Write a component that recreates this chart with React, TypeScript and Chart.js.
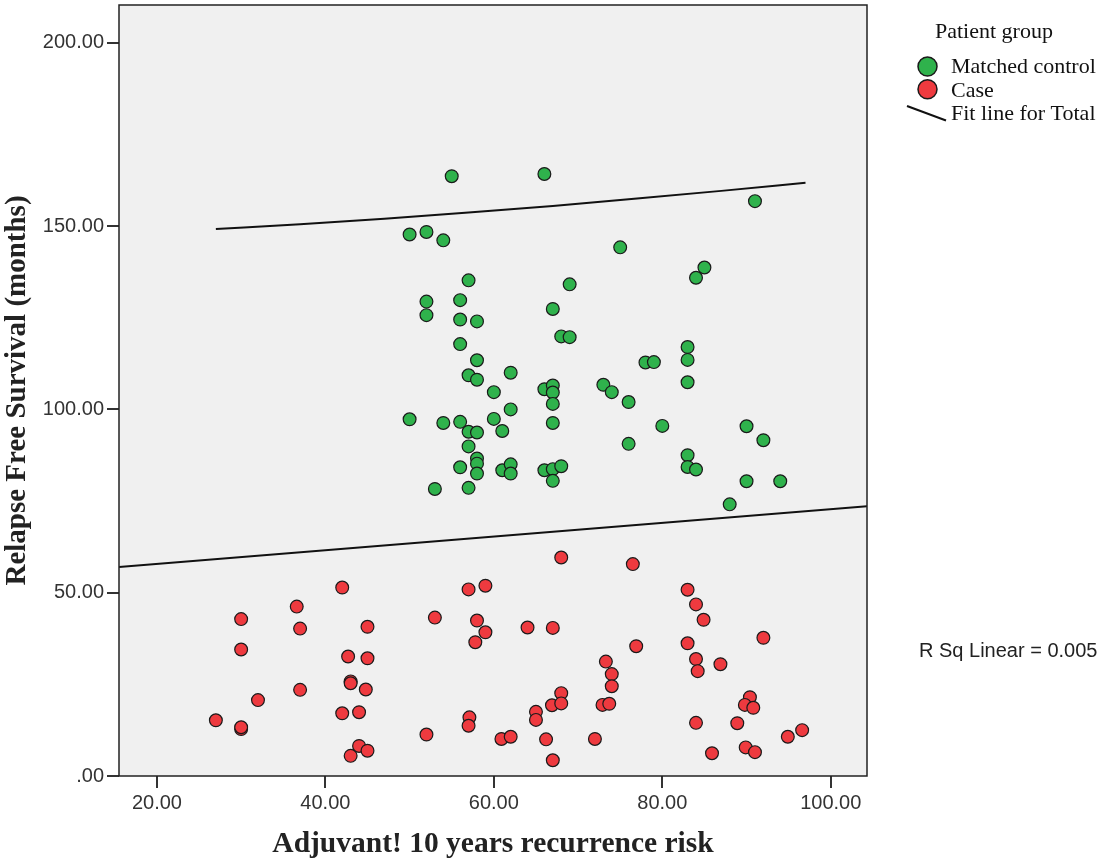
import React, { useEffect, useRef } from 'react';
import { Chart, registerables } from 'chart.js';

Chart.register(...registerables);

// Matched control (green)
const controlX = [55, 66, 50, 52, 54, 57, 69, 52, 56, 52, 56, 58, 67, 56, 68, 69, 58, 57, 58, 62, 60, 66, 67, 67, 67, 50, 54, 56, 60, 62, 67, 57, 58, 61, 57, 58, 58, 58, 56, 61, 62, 62, 66, 67, 68, 67, 53, 57,
  91, 75, 85, 84, 83, 83, 78, 79, 83, 73, 74, 76, 80, 90, 92, 76, 83, 83, 84, 90, 94, 88];
const controlY = [163.6, 164.2, 147.7, 148.4, 146.1, 135.2, 134.1, 129.4, 129.8, 125.7, 124.5, 124.0, 127.4, 117.8, 119.9, 119.7, 113.4, 109.3, 108.1, 110.0, 104.7, 105.5, 106.5, 104.6, 101.5, 97.3, 96.3, 96.6, 97.4, 100.0, 96.3, 93.9, 93.7, 94.1, 89.9, 86.6, 85.2, 82.5, 84.2, 83.4, 85.0, 82.5, 83.4, 83.7, 84.5, 80.5, 78.3, 78.6,
  156.8, 144.2, 138.7, 135.9, 117.0, 113.5, 112.8, 112.9, 107.4, 106.7, 104.7, 102.0, 95.5, 95.4, 91.6, 90.6, 87.5, 84.3, 83.6, 80.4, 80.4, 74.1];

// Case (red)
const caseX = [42, 36.6, 30, 37, 30, 42.7, 43, 37, 32, 42, 27, 30, 30, 43,
  68, 57, 59, 53, 45, 58, 59, 57.8, 64, 67, 45, 43, 44.8, 44, 44, 45, 52, 57.1, 57, 60.9, 62, 65, 65, 66.2, 67, 66.9, 68, 68,
  76.5, 83, 84, 84.9, 92, 76.9, 83, 73.3, 84, 86.9, 74, 84.2, 74, 72.9, 73.7, 72, 84, 88.9, 90.4, 89.8, 90.8, 85.9, 89.9, 91, 94.9, 96.6];
const caseY = [51.4, 46.2, 42.8, 40.2, 34.5, 32.6, 25.8, 23.5, 20.7, 17.1, 15.2, 12.8, 13.3, 5.5,
  59.6, 50.9, 51.9, 43.2, 40.7, 42.4, 39.2, 36.5, 40.5, 40.4, 32.1, 25.3, 23.6, 17.4, 8.2, 6.9, 11.3, 16.0, 13.7, 10.1, 10.7, 17.5, 15.3, 10.0, 4.3, 19.3, 22.6, 19.8,
  57.8, 50.8, 46.8, 42.6, 37.7, 35.4, 36.2, 31.2, 31.9, 30.5, 27.8, 28.6, 24.5, 19.4, 19.7, 10.1, 14.5, 14.4, 21.5, 19.4, 18.6, 6.2, 7.8, 6.5, 10.7, 12.5];

// Fit lines
const fitUpperX = [27, 37, 47, 57, 67, 77, 87, 97];
const fitUpperY = [149.2, 150.5, 152.0, 153.7, 155.5, 157.5, 159.6, 161.8];
const fitLowerX = [15.5, 104.3];
const fitLowerY = [57.0, 73.6];

const xTickValues = [20, 40, 60, 80, 100];
const yTickValues = [0, 50, 100, 150, 200];

const legendTitle = 'Patient group';
const legendLabels = ['Matched control', 'Case', 'Fit line for Total'];
const rsqText = 'R Sq Linear = 0.005';
const xTitle = 'Adjuvant! 10 years recurrence risk';
const yTitle = 'Relapse Free Survival (months)';

const GREEN = '#2fb24c';
const RED = '#ee3a3f';
const EDGE = '#1a1a1a';

const fmt = (v: number) => (v === 0 ? '.00' : v.toFixed(2));

const decor = {
  id: 'decor',
  beforeDraw(chart: any) {
    const { ctx, chartArea } = chart;
    ctx.save();
    ctx.fillStyle = '#f0f0f0';
    ctx.fillRect(chartArea.left, chartArea.top, chartArea.right - chartArea.left, chartArea.bottom - chartArea.top);
    ctx.restore();
  },
  afterDatasetsDraw(chart: any) {
    const { ctx, chartArea } = chart;
    ctx.save();
    ctx.strokeStyle = '#222';
    ctx.lineWidth = 1.5;
    ctx.strokeRect(chartArea.left, chartArea.top, chartArea.right - chartArea.left, chartArea.bottom - chartArea.top);
    ctx.restore();
  },
  afterDraw(chart: any) {
    const { ctx } = chart;
    ctx.save();
    ctx.fillStyle = '#111';
    ctx.textBaseline = 'alphabetic';
    ctx.textAlign = 'left';
    ctx.font = "22px 'Liberation Serif'";
    ctx.fillText(legendTitle, 935, 38);
    ctx.fillText(legendLabels[0], 951, 73);
    ctx.fillText(legendLabels[1], 951, 96.5);
    ctx.fillText(legendLabels[2], 951, 120);
    // markers
    const drawDot = (cx: number, cy: number, fill: string) => {
      ctx.beginPath();
      ctx.arc(cx, cy, 9.5, 0, Math.PI * 2);
      ctx.fillStyle = fill;
      ctx.fill();
      ctx.lineWidth = 1.5;
      ctx.strokeStyle = EDGE;
      ctx.stroke();
    };
    drawDot(927.5, 66.5, GREEN);
    drawDot(927.5, 89.3, RED);
    ctx.beginPath();
    ctx.moveTo(907, 106);
    ctx.lineTo(946, 120.5);
    ctx.lineWidth = 2;
    ctx.strokeStyle = '#111';
    ctx.stroke();
    // R squared
    ctx.fillStyle = '#222';
    ctx.font = "20px 'Liberation Sans'";
    ctx.fillText(rsqText, 919, 657);
    ctx.restore();
  },
};

export default function App() {
  const ref = useRef<HTMLCanvasElement | null>(null);

  useEffect(() => {
    if (!ref.current) return;
    const pts = (xs: number[], ys: number[]) => xs.map((x, i) => ({ x, y: ys[i] }));
    const chart = new Chart(ref.current, {
      type: 'scatter',
      data: {
        datasets: [
          {
            label: 'Fit upper',
            data: pts(fitUpperX, fitUpperY),
            showLine: true,
            borderColor: '#111',
            borderWidth: 2,
            pointRadius: 0,
            cubicInterpolationMode: 'monotone',
            fill: false,
          } as any,
          {
            label: 'Fit lower',
            data: pts(fitLowerX, fitLowerY),
            showLine: true,
            borderColor: '#111',
            borderWidth: 2,
            pointRadius: 0,
            fill: false,
          } as any,
          {
            label: legendLabels[1],
            data: pts(caseX, caseY),
            backgroundColor: RED,
            borderColor: EDGE,
            borderWidth: 1.2,
            pointRadius: 6.4,
          },
          {
            label: legendLabels[0],
            data: pts(controlX, controlY),
            backgroundColor: GREEN,
            borderColor: EDGE,
            borderWidth: 1.2,
            pointRadius: 6.4,
          },
        ],
      },
      options: {
        animation: false,
        responsive: false,
        devicePixelRatio: 1,
        layout: { autoPadding: false, padding: { top: 5, right: 241, left: 0, bottom: 0 } },
        plugins: { legend: { display: false }, tooltip: { enabled: false } },
        scales: {
          x: {
            type: 'linear',
            min: 15.5,
            max: 104.3,
            afterBuildTicks: (s: any) => { s.ticks = xTickValues.map((v) => ({ value: v })); },
            afterFit: (s: any) => { s.height = 86; s.paddingLeft = 0; s.paddingRight = 0; },
            border: { display: false },
            grid: { drawOnChartArea: false, drawTicks: true, tickLength: 12, color: '#333', lineWidth: 2 },
            ticks: { color: '#333', font: { family: 'Liberation Sans', size: 20 }, padding: 3, maxRotation: 0, autoSkip: false, callback: (v: any) => fmt(Number(v)) },
            title: { display: true, text: xTitle, color: '#222', font: { family: 'Liberation Serif', size: 29.5, weight: 'bold' }, padding: 0 },
          },
          y: {
            type: 'linear',
            min: 0,
            max: 210.3,
            afterBuildTicks: (s: any) => { s.ticks = yTickValues.map((v) => ({ value: v })); },
            afterFit: (s: any) => { s.width = 119; s.paddingTop = 0; s.paddingBottom = 0; },
            border: { display: false },
            grid: { drawOnChartArea: false, drawTicks: true, tickLength: 12, color: '#333', lineWidth: 2 },
            ticks: { color: '#333', font: { family: 'Liberation Sans', size: 20 }, padding: 3, autoSkip: false, callback: (v: any) => fmt(Number(v)) },
            title: { display: true, text: yTitle, color: '#222', font: { family: 'Liberation Serif', size: 29, weight: 'bold' }, padding: 0 },
          },
        },
      },
      plugins: [decor],
    } as any);
    return () => chart.destroy();
  }, []);

  return (
    <div style={{ position: 'absolute', left: 0, top: 0, width: 1108, height: 862, background: '#fff' }}>
      <canvas ref={ref} width={1108} height={862} style={{ width: 1108, height: 862, display: 'block' }} />
    </div>
  );
}
